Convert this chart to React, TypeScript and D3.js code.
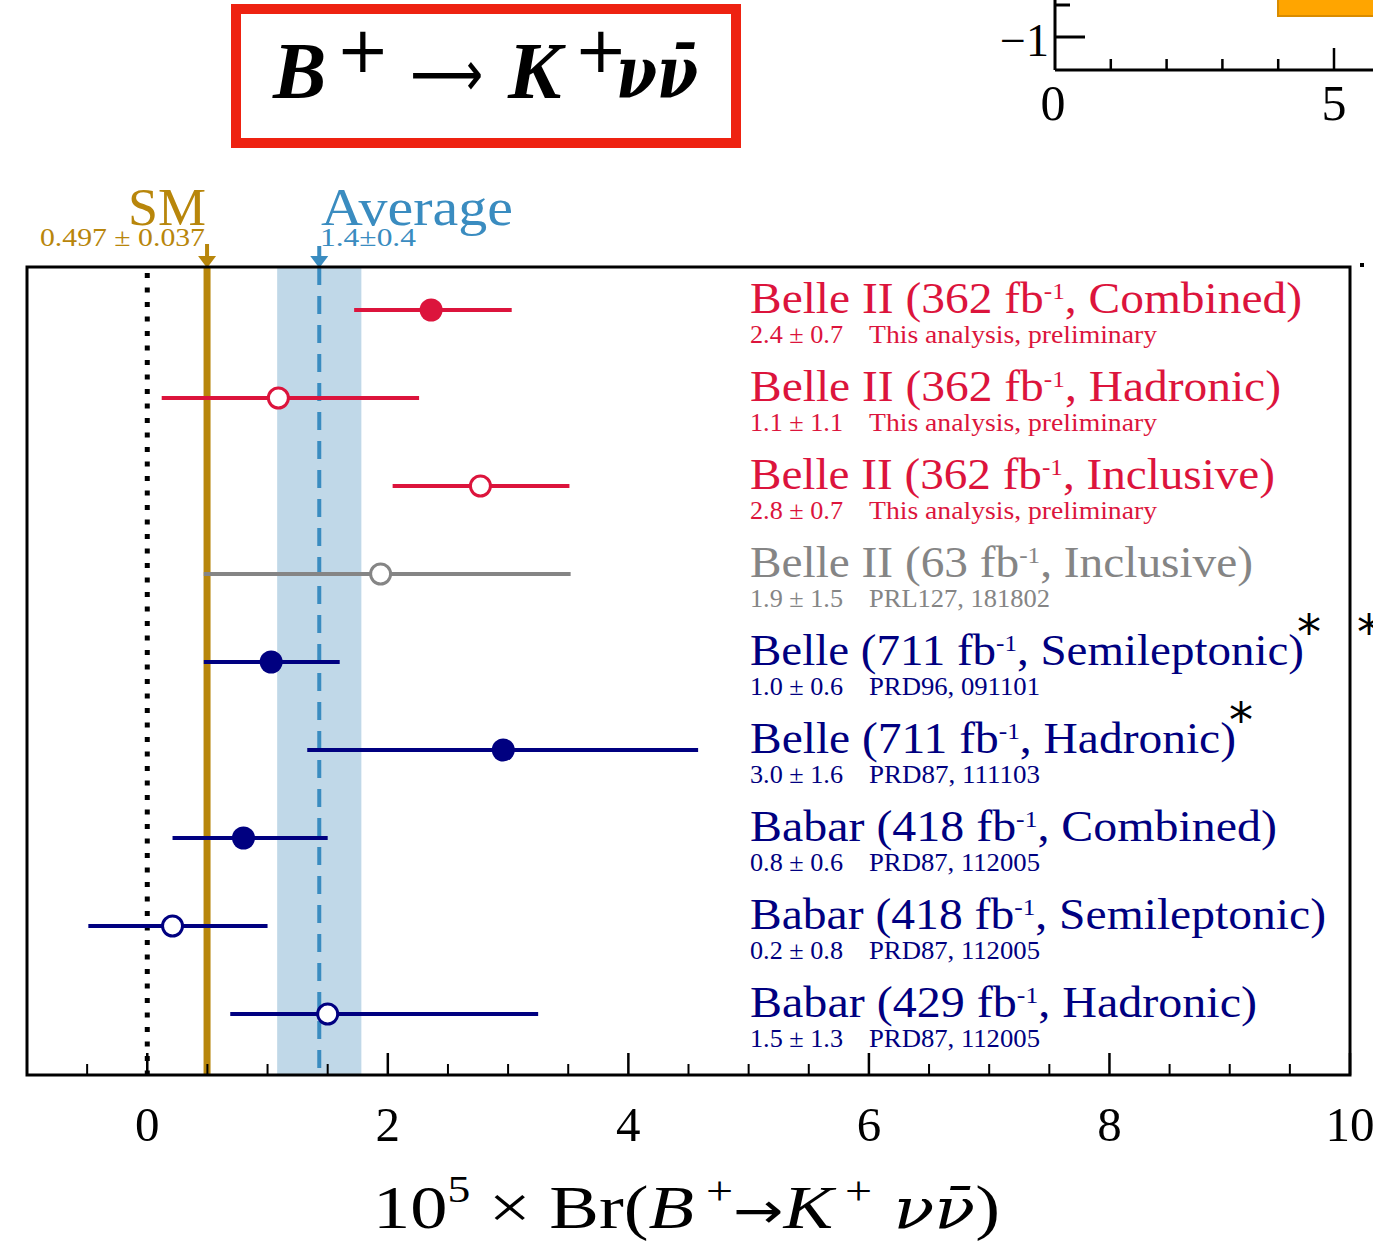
import React from "react";
import * as d3 from "d3";

const experiments = ["Belle II", "Belle II", "Belle II", "Belle II", "Belle", "Belle", "Babar", "Babar", "Babar"];
const lumis = ["362", "362", "362", "63", "711", "711", "418", "418", "429"];
const methods = ["Combined", "Hadronic", "Inclusive", "Inclusive", "Semileptonic", "Hadronic", "Combined", "Semileptonic", "Hadronic"];
const centrals = [2.36, 1.09, 2.77, 1.94, 1.03, 2.96, 0.8, 0.21, 1.5];
const lows = [1.72, 0.12, 2.04, 0.47, 0.47, 1.33, 0.21, -0.49, 0.69];
const highs = [3.03, 2.26, 3.51, 3.52, 1.6, 4.58, 1.5, 1.0, 3.25];
const filled = [true, false, false, false, true, true, true, false, false];
const valueTexts = ["2.4 ± 0.7", "1.1 ± 1.1", "2.8 ± 0.7", "1.9 ± 1.5", "1.0 ± 0.6", "3.0 ± 1.6", "0.8 ± 0.6", "0.2 ± 0.8", "1.5 ± 1.3"];
const refs = ["This analysis, preliminary", "This analysis, preliminary", "This analysis, preliminary", "PRL127, 181802", "PRD96, 091101", "PRD87, 111103", "PRD87, 112005", "PRD87, 112005", "PRD87, 112005"];
const starred = [false, false, false, false, true, true, false, false, false];
const colorKeys = ["b2", "b2", "b2", "old", "b1", "b1", "b1", "b1", "b1"];
const labelWidths = [552, 531, 525, 503, 554, 486, 527, 576, 507];
const refWidths = [288, 288, 288, 181, 171, 171, 171, 171, 171];

const smValue = 0.497;
const avgValue = 1.43;
const avgLow = 1.08;
const avgHigh = 1.78;
const xTicksMajor = [0, 2, 4, 6, 8, 10];
const xDomain = [-1, 10];

const insetTicks = [1, 2, 3, 4, 5];

const COLORS: Record<string, string> = { b2: "#dc143c", old: "#858585", b1: "#000080" };
const SM_COLOR = "#b8860b";
const AVG_COLOR = "#3a8cc0";
const BAND_COLOR = "#c0d8e8";
const FONT = "'Liberation Serif', 'DejaVu Serif', serif";
const GREEK = "'DejaVu Serif', serif";

export default function App() {
  const x = d3.scaleLinear().domain(xDomain).range([27, 1350]);
  const idx = d3.range(experiments.length);
  const y = d3.scalePoint<number>().domain(idx).range([310, 1014]);
  const top = 267;
  const bottom = 1075;
  const minorTicks = d3.range(-0.5, 10, 0.5).filter((v) => !xTicksMajor.includes(v));

  const ix = d3.scaleLinear().domain([0, 5]).range([1055, 1334]);

  return (
    <svg width={1373} height={1244} style={{ position: "absolute", left: 0, top: 0, background: "#fff" }} fontFamily={FONT}>
      {/* inset fragment top right */}
      <rect x={1278} y={-4} width={110} height={20} fill="#ffa500" stroke="#d98c00" strokeWidth={2} />
      <line x1={ix(0)} x2={ix(0)} y1={0} y2={70} stroke="#000" strokeWidth={3} />
      <line x1={ix(0)} x2={1373} y1={70} y2={70} stroke="#000" strokeWidth={3} />
      <line x1={ix(0)} x2={ix(0) + 15} y1={5} y2={5} stroke="#000" strokeWidth={3} />
      <line x1={ix(0)} x2={ix(0) + 30} y1={37} y2={37} stroke="#000" strokeWidth={3} />
      {insetTicks.map((t) => (
        <line key={t} x1={ix(t)} x2={ix(t)} y1={70} y2={t === 5 ? 48 : 59} stroke="#000" strokeWidth={2.5} />
      ))}
      <text x={1049} y={56} fontSize={46} textAnchor="end" fill="#000">−1</text>
      <text x={ix(0) - 2} y={120} fontSize={50} textAnchor="middle" fill="#000">0</text>
      <text x={ix(5)} y={120} fontSize={50} textAnchor="middle" fill="#000">5</text>

      {/* title box */}
      <rect x={236} y={9} width={500} height={134} fill="#fff" stroke="#ee2211" strokeWidth={10} />
      <text y={98} fontSize={80} fontWeight="bold" fill="#000">
        <tspan x={273} fontStyle="italic">B</tspan>
        <tspan x={336} y={72} fontSize={64} fontWeight="normal" fontFamily="'DejaVu Sans', sans-serif">+</tspan>
      </text>
      <text x={410} y={96} fontSize={64} fill="#000" fontFamily="'DejaVu Sans', sans-serif" textLength={73} lengthAdjust="spacingAndGlyphs">⟶</text>
      <text y={98} fontSize={80} fontWeight="bold" fill="#000">
        <tspan x={508} fontStyle="italic">K</tspan>
        <tspan x={574} y={72} fontSize={64} fontWeight="normal" fontFamily="'DejaVu Sans', sans-serif">+</tspan>
      </text>
      <text x={616} y={98} fontSize={72} fontWeight="bold" fontStyle="italic" fill="#000" fontFamily={GREEK} textLength={82} lengthAdjust="spacingAndGlyphs">νν̄</text>

      {/* SM / Average labels */}
      <text x={128} y={225} fontSize={52} fill={SM_COLOR} textLength={78} lengthAdjust="spacingAndGlyphs">SM</text>
      <text x={40} y={246} fontSize={26} fill={SM_COLOR} textLength={165} lengthAdjust="spacingAndGlyphs">0.497 ± 0.037</text>
      <text x={321} y={225} fontSize={52} fill={AVG_COLOR} textLength={192} lengthAdjust="spacingAndGlyphs">Average</text>
      <text x={320} y={246} fontSize={25} fill={AVG_COLOR} textLength={96} lengthAdjust="spacingAndGlyphs">1.4±0.4</text>
      {/* arrows */}
      <line x1={x(smValue)} x2={x(smValue)} y1={244} y2={262} stroke={SM_COLOR} strokeWidth={4} />
      <path d={`M${x(smValue) - 9},${256} L${x(smValue) + 9},${256} L${x(smValue)},${268} Z`} fill={SM_COLOR} />
      <line x1={x(avgValue)} x2={x(avgValue)} y1={246} y2={262} stroke={AVG_COLOR} strokeWidth={4} />
      <path d={`M${x(avgValue) - 9},${256} L${x(avgValue) + 9},${256} L${x(avgValue)},${268} Z`} fill={AVG_COLOR} />

      {/* band */}
      <rect x={x(avgLow)} y={top} width={x(avgHigh) - x(avgLow)} height={bottom - top} fill={BAND_COLOR} />
      <line x1={x(avgValue)} x2={x(avgValue)} y1={top} y2={bottom} stroke={AVG_COLOR} strokeWidth={4} strokeDasharray="18,11" />
      <line x1={x(smValue)} x2={x(smValue)} y1={top} y2={bottom} stroke={SM_COLOR} strokeWidth={7} />
      <line x1={x(0)} x2={x(0)} y1={top + 6} y2={bottom} stroke="#000" strokeWidth={5} strokeDasharray="5,9.5" />

      {/* axis ticks */}
      {xTicksMajor.map((t) => (
        <line key={"M" + t} x1={x(t)} x2={x(t)} y1={bottom} y2={bottom - 22} stroke="#000" strokeWidth={2.5} />
      ))}
      {minorTicks.map((t) => (
        <line key={"m" + t} x1={x(t)} x2={x(t)} y1={bottom} y2={bottom - 11} stroke="#000" strokeWidth={2} />
      ))}
      {xTicksMajor.map((t) => (
        <text key={"l" + t} x={x(t)} y={1141} fontSize={49} textAnchor="middle" fill="#000">{t}</text>
      ))}

      {/* data */}
      {idx.map((i) => {
        const c = COLORS[colorKeys[i]];
        const cy = y(i) as number;
        return (
          <g key={i}>
            <line x1={x(lows[i])} x2={x(highs[i])} y1={cy} y2={cy} stroke={c} strokeWidth={4} />
            {filled[i] ? (
              <circle cx={x(centrals[i])} cy={cy} r={11.5} fill={c} />
            ) : (
              <circle cx={x(centrals[i])} cy={cy} r={10} fill="#fff" stroke={c} strokeWidth={3} />
            )}
            <text x={750} y={cy + 3} fontSize={45} fill={c} textLength={labelWidths[i]} lengthAdjust="spacingAndGlyphs">
              {experiments[i]} ({lumis[i]} fb<tspan dy={-14} fontSize={24}>-1</tspan>
              <tspan dy={14}>, {methods[i]})</tspan>
            </text>
            {starred[i] && (
              <text x={750 + labelWidths[i] - 7} y={cy - 13} fontSize={48} fill="#000" fontFamily="'DejaVu Sans', sans-serif">*</text>
            )}
            <text x={750} y={cy + 33} fontSize={25} fill={c} textLength={93} lengthAdjust="spacingAndGlyphs">{valueTexts[i]}</text>
            <text x={869} y={cy + 33} fontSize={25} fill={c} textLength={refWidths[i]} lengthAdjust="spacingAndGlyphs">{refs[i]}</text>
          </g>
        );
      })}

      {/* frame */}
      <rect x={27} y={top} width={1350 - 27} height={bottom - top} fill="none" stroke="#000" strokeWidth={3} />

      {/* outside fragments */}
      <text x={1357} y={649} fontSize={48} fill="#000" fontFamily="'DejaVu Sans', sans-serif">*</text>
      <rect x={1360} y={263} width={4} height={4} fill="#000" />

      {/* x axis label */}
      <text x={373} y={1228} fontSize={62} fill="#000" textLength={627} lengthAdjust="spacingAndGlyphs">
        10<tspan dy={-26} fontSize={38}>5</tspan>
        <tspan dy={26}> × Br(</tspan>
        <tspan fontStyle="italic">B</tspan>
        <tspan dy={-24} fontSize={40}> +</tspan>
        <tspan dy={24} fontFamily="'DejaVu Sans', sans-serif" fontSize={50}>→</tspan>
        <tspan fontStyle="italic">K</tspan>
        <tspan dy={-24} fontSize={40}> +</tspan>
        <tspan dy={24} fontStyle="italic" fontFamily={GREEK} fontSize={56}> νν̄</tspan>
        <tspan>)</tspan>
      </text>
    </svg>
  );
}
